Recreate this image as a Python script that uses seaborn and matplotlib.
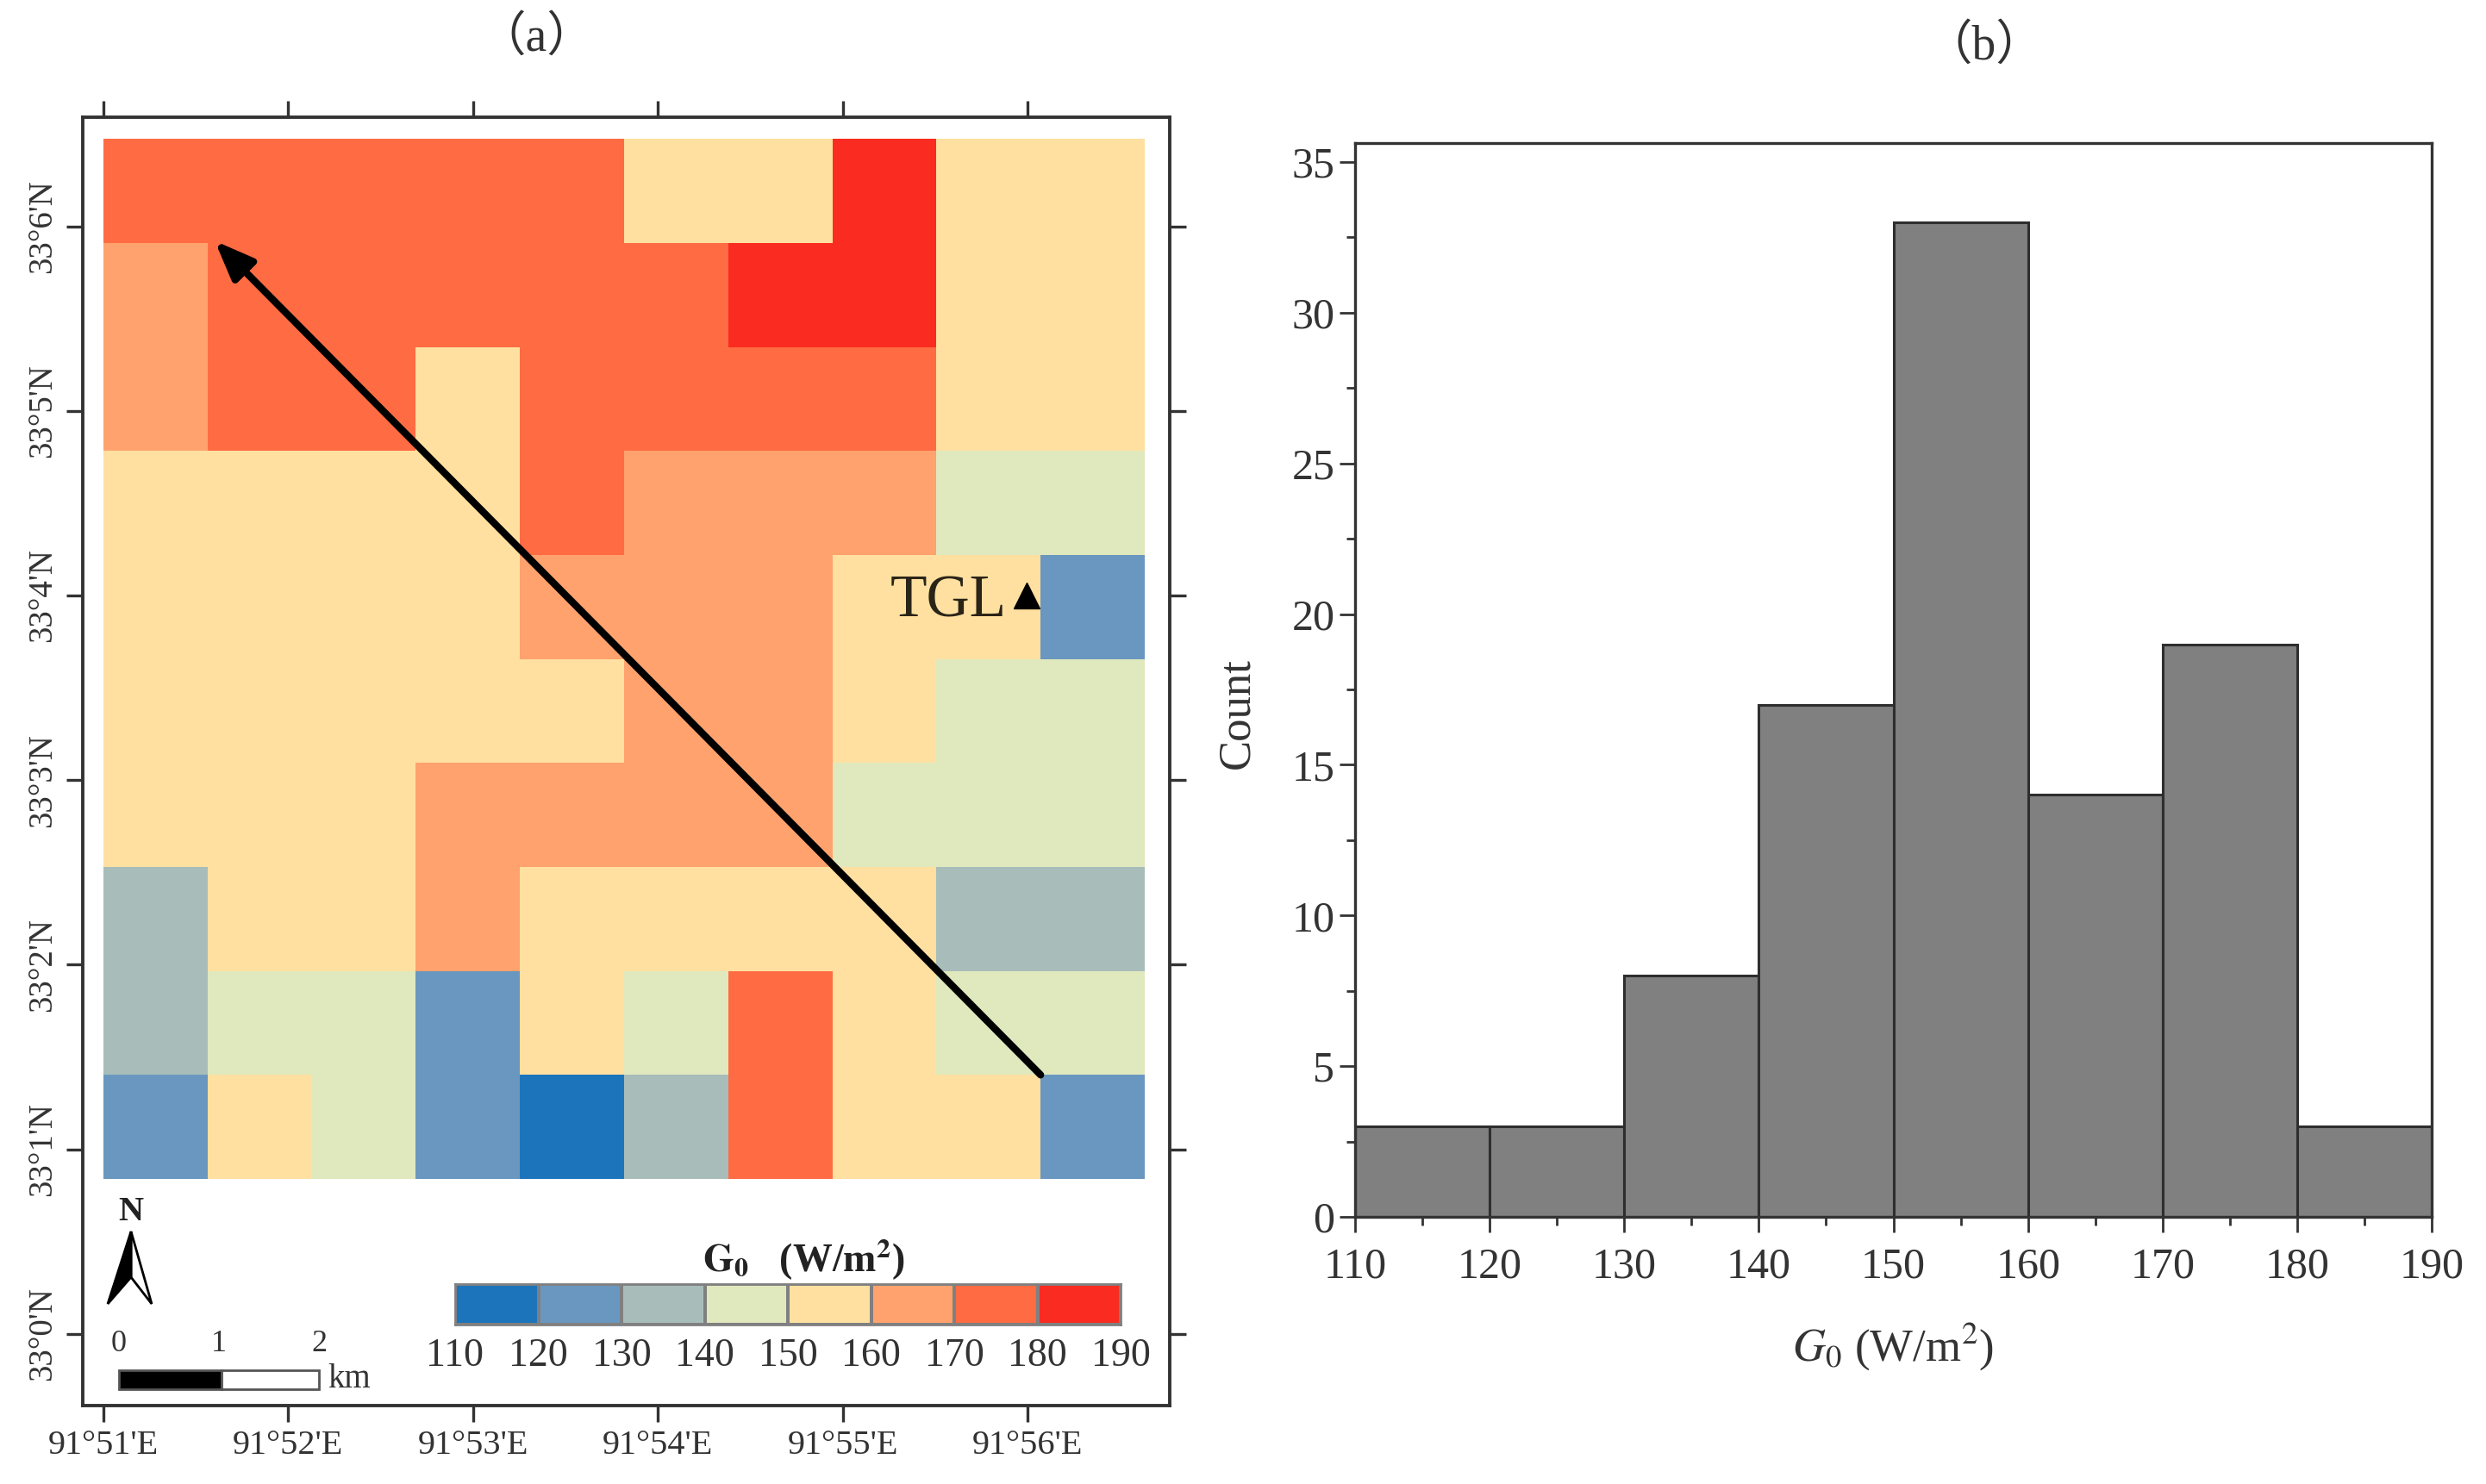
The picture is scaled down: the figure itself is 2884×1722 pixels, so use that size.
import matplotlib.pyplot as plt
from matplotlib.colors import ListedColormap
from matplotlib.patches import Polygon, Rectangle
from matplotlib.ticker import MultipleLocator
import numpy as np
import pandas as pd
import seaborn as sns

sns.set_theme(style='ticks')
plt.rcParams['font.family'] = ['Liberation Serif', 'DejaVu Serif']
plt.rcParams['mathtext.fontset'] = 'stix'

# G0 class (mid value of the bin) per map cell, top row first
row_0 = [175, 175, 175, 175, 175, 155, 155, 185, 155, 155]
row_1 = [165, 175, 175, 175, 175, 175, 185, 185, 155, 155]
row_2 = [165, 175, 175, 155, 175, 175, 175, 175, 155, 155]
row_3 = [155, 155, 155, 155, 175, 165, 165, 165, 145, 145]
row_4 = [155, 155, 155, 155, 165, 165, 165, 155, 155, 125]
row_5 = [155, 155, 155, 155, 155, 165, 165, 155, 145, 145]
row_6 = [155, 155, 155, 165, 165, 165, 165, 145, 145, 145]
row_7 = [135, 155, 155, 165, 155, 155, 155, 155, 135, 135]
row_8 = [135, 145, 145, 125, 155, 145, 175, 155, 145, 145]
row_9 = [125, 155, 145, 125, 115, 135, 175, 155, 155, 125]

class_colors = ['#1c75bb', '#6a97bf', '#a8bdba', '#e0e8be',
                '#ffe0a0', '#ffa26e', '#ff6b42', '#fa2b20']
class_edges = [110, 120, 130, 140, 150, 160, 170, 180, 190]

lon_minutes = [51, 52, 53, 54, 55, 56]
lat_minutes = [0, 1, 2, 3, 4, 5, 6]

hist_edges = [110, 120, 130, 140, 150, 160, 170, 180, 190]
hist_counts = [3, 3, 8, 17, 33, 14, 19, 3]

FIG_W, FIG_H = 2884, 1722
INK = '#333333'


def add_axes_px(fig, left, top, right, bottom):
    return fig.add_axes([left / FIG_W, 1 - bottom / FIG_H,
                         (right - left) / FIG_W, (bottom - top) / FIG_H])


fig = plt.figure(figsize=(FIG_W / 100, FIG_H / 100), dpi=100, facecolor='white')

# (a) map
grid = pd.DataFrame([row_0, row_1, row_2, row_3, row_4,
                     row_5, row_6, row_7, row_8, row_9])
cmap = ListedColormap(class_colors)
ax_map = add_axes_px(fig, 96, 136, 1357, 1631)
sns.heatmap(grid, ax=ax_map, cmap=cmap, vmin=110, vmax=190, cbar=False,
            xticklabels=False, yticklabels=False)
ax_map.set_xlabel('')
ax_map.set_ylabel('')
ax_map.set_xlim(-0.198, 10.24)
ax_map.set_ylim(12.18, -0.21)

cells_per_min = 1.775
ax_map.set_xticks([(m - 51) * cells_per_min for m in lon_minutes])
ax_map.set_xticklabels([f"91°{m}'E" for m in lon_minutes], fontsize=29, color=INK)
ax_map.set_yticks([11.49 - m * cells_per_min for m in lat_minutes])
ax_map.set_yticklabels([f"33°{m}'N" for m in lat_minutes], fontsize=28, color=INK,
                       rotation=90, va='center')
ax_map.tick_params(axis='both', which='major', length=14, width=2.4, color=INK,
                   top=True, right=True, bottom=True, left=True,
                   labeltop=False, labelright=False, pad=6)
for spine in ax_map.spines.values():
    spine.set_visible(True)
    spine.set_color(INK)
    spine.set_linewidth(2.8)

ax_map.annotate('', xy=(1.07, 0.98), xytext=(9.0, 9.0),
                arrowprops=dict(arrowstyle='-|>,head_length=0.75,head_width=0.3',
                                mutation_scale=36, lw=6, color='black',
                                shrinkA=0, shrinkB=0))
ax_map.plot([8.87], [4.39], marker='^', markersize=21, color='black', linestyle='none')
ax_map.text(8.67, 4.45, 'TGL', fontsize=50, color='#2a2418', ha='right', va='center')

# class legend of the map
ax_leg = add_axes_px(fig, 528, 1490, 1300, 1537)
leg_values = pd.DataFrame([[(a + b) / 2 for a, b in zip(class_edges[:-1], class_edges[1:])]])
sns.heatmap(leg_values, ax=ax_leg, cmap=cmap, vmin=110, vmax=190, cbar=False,
            linewidths=1.5, linecolor='#808080', xticklabels=False, yticklabels=False)
ax_leg.set_xticks(np.arange(len(class_edges)))
ax_leg.set_xticklabels(class_edges, fontsize=33, color=INK)
ax_leg.set_yticks([])
ax_leg.tick_params(axis='x', length=0, pad=11)
for spine in ax_leg.spines.values():
    spine.set_visible(True)
    spine.set_color('#808080')
    spine.set_linewidth(2)
fig.text(933 / FIG_W, 1 - 1462 / FIG_H, r'$\mathbf{G_0}$   (W/m$^{\mathbf{2}}$)', fontsize=33,
         fontweight='bold', color='#222222', ha='center', va='center')

# north arrow and scale bar, in figure pixels
ax_ann = fig.add_axes([0, 0, 1, 1], facecolor='none')
ax_ann.set_xlim(0, FIG_W)
ax_ann.set_ylim(FIG_H, 0)
ax_ann.axis('off')
ax_ann.text(152, 1407, 'N', fontsize=29, fontweight='bold', color='#222222',
            ha='center', va='center')
ax_ann.add_patch(Polygon([(152, 1429), (176, 1513), (152, 1482)], closed=True,
                         facecolor='white', edgecolor='black', linewidth=2))
ax_ann.add_patch(Polygon([(152, 1429), (125, 1513), (152, 1482)], closed=True,
                         facecolor='black', edgecolor='black', linewidth=2))
ax_ann.add_patch(Rectangle((138, 1590), 119, 22, facecolor='black', edgecolor='#555555',
                           linewidth=2))
ax_ann.add_patch(Rectangle((257, 1590), 113, 22, facecolor='white', edgecolor='#555555',
                           linewidth=2))
for x_px, label in zip((138, 254, 370), ('0', '1', '2')):
    ax_ann.text(x_px, 1560, label, fontsize=26, color=INK, ha='center', va='center')
ax_ann.text(380, 1600, 'km', fontsize=28, color=INK, ha='left', va='center')

# (b) histogram
ax_hist = add_axes_px(fig, 1572, 166, 2821, 1412)
bin_mids = [(a + b) / 2 for a, b in zip(hist_edges[:-1], hist_edges[1:])]
sns.histplot(x=bin_mids, weights=hist_counts, bins=hist_edges, ax=ax_hist,
             color='#808080', edgecolor='#2e2e2e', linewidth=2.2, alpha=1)
ax_hist.set_xlim(110, 190)
ax_hist.set_ylim(0, 35.63)
ax_hist.set_xticks(hist_edges)
ax_hist.set_yticks(range(0, 36, 5))
ax_hist.xaxis.set_minor_locator(MultipleLocator(5))
ax_hist.yaxis.set_minor_locator(MultipleLocator(2.5))
ax_hist.tick_params(axis='both', which='major', length=13, width=2, color=INK,
                    labelsize=36, labelcolor=INK)
ax_hist.tick_params(axis='x', which='major', pad=12)
ax_hist.tick_params(axis='y', which='major', pad=4)
ax_hist.tick_params(axis='both', which='minor', length=7, width=2, color=INK)
ax_hist.set_xlabel(r'$\mathit{G}_{0}$ (W/m$^{2}$)', fontsize=38, color=INK, labelpad=28)
ax_hist.set_ylabel('Count', fontsize=38, color=INK)
ax_hist.yaxis.set_label_coords(-0.09, 0.469)
for spine in ax_hist.spines.values():
    spine.set_visible(True)
    spine.set_color(INK)
    spine.set_linewidth(2.4)

# panel titles
fig.text(622 / FIG_W, 1 - 44 / FIG_H, '（a）', fontsize=40, color=INK, ha='center', va='center',
         family=['Liberation Serif', 'Noto Sans CJK SC'])
fig.text(2302 / FIG_W, 1 - 54 / FIG_H, '（b）', fontsize=40, color=INK, ha='center', va='center',
         family=['Liberation Serif', 'Noto Sans CJK SC'])

fig.savefig('out.png', dpi=100, facecolor='white')
